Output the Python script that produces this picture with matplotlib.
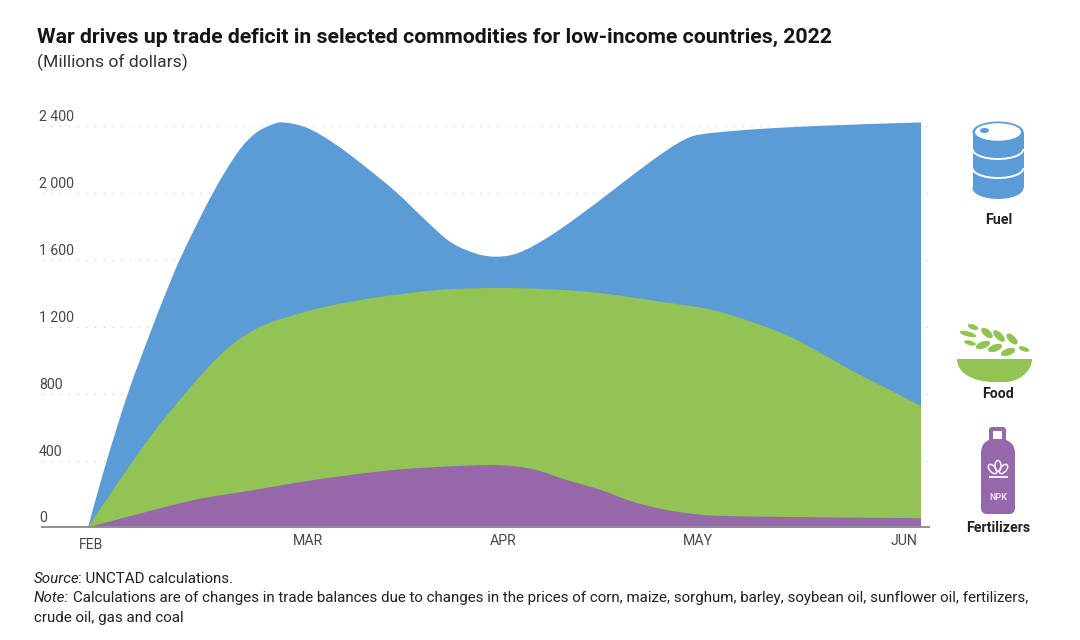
import matplotlib
matplotlib.use("Agg")
import matplotlib.pyplot as plt
from matplotlib.patches import Ellipse, Rectangle, Arc, PathPatch
from matplotlib.path import Path

plt.rcParams["font.family"] = ["Roboto", "DejaVu Sans"]

# month position (0 = Feb, 4 = Jun) and top of each stacked band
fuel_x = [0, .082, .192, .31, .36, .44, .60, .72, .80, .87, .93, 1.05, 1.18, 1.31, 1.48, 1.61, 1.74, 1.87, 1.97,
          2.07, 2.20, 2.35, 2.51, 2.64, 2.75, 2.83, 2.90, 2.99, 3.23, 3.55, 4.0]
fuel_top = [0, 365, 803, 1200, 1360, 1600, 2000, 2245, 2353, 2402, 2422, 2390, 2298, 2178, 2005, 1850, 1707, 1635, 1619,
            1643, 1728, 1856, 2006, 2130, 2230, 2296, 2338, 2358, 2383, 2403, 2422]
food_x = [0, .144, .31, .468, .626, .755, .865, .98, 1.09, 1.24, 1.40, 1.68, 1.96, 2.23, 2.47, 2.79, 3.0, 3.23, 3.39,
          3.55, 3.71, 3.87, 4.0]
food_top = [0, 268, 560, 803, 1021, 1150, 1220, 1266, 1305, 1345, 1378, 1420, 1432, 1423, 1400, 1342, 1300, 1210, 1130,
            1020, 910, 810, 725]
fert_x = [0, .144, .51, .79, 1.02, 1.26, 1.50, 1.74, 1.98, 2.14, 2.30, 2.46, 2.62, 2.78, 2.94, 3.07, 3.39, 4.0]
fert_top = [0, 48, 164, 222, 271, 314, 347, 365, 372, 347, 283, 225, 152, 104, 76, 68, 62, 55]

y_ticks = [0, 400, 800, 1200, 1600, 2000, 2400]
y_labels = ["0", "400", "800", "1 200", "1 600", "2 000", "2 400"]
months = ["FEB", "MAR", "APR", "MAY", "JUN"]

BLUE = "#5b9bd6"
GREEN = "#92c354"
PURPLE = "#9569a9"
TEXT = "#484848"
NOTE = "#222222"
ICON_LIGHT = "#f1e8f5"

W, H = 1080, 640


def band_path(xs, ys):
    # area under the readings, joined with bezier segments so the edge stays smooth
    slopes = []
    for i in range(len(xs)):
        a, b = max(i - 1, 0), min(i + 1, len(xs) - 1)
        slopes.append((ys[b] - ys[a]) / (xs[b] - xs[a]))
    verts = [(xs[0], 0), (xs[0], ys[0])]
    codes = [Path.MOVETO, Path.LINETO]
    for i in range(len(xs) - 1):
        dx = (xs[i + 1] - xs[i]) / 3
        verts += [(xs[i] + dx, ys[i] + slopes[i] * dx),
                  (xs[i + 1] - dx, ys[i + 1] - slopes[i + 1] * dx),
                  (xs[i + 1], ys[i + 1])]
        codes += [Path.CURVE4] * 3
    verts += [(xs[-1], 0), (xs[0], 0)]
    codes += [Path.LINETO, Path.CLOSEPOLY]
    return Path(verts, codes)


fig = plt.figure(figsize=(W / 100, H / 100), dpi=100, facecolor="white")

# chart axes, placed by pixel
left, right, bottom = 42, 929, 527.4
ymax = 2440
top = bottom - ymax / 5.98
ax = fig.add_axes([left / W, 1 - bottom / H, (right - left) / W, (bottom - top) / H])
ax.set_xlim((left - 88) / 208.25, (right - 88) / 208.25)
ax.set_ylim(0, ymax)
ax.add_patch(PathPatch(band_path(fuel_x, fuel_top), color=BLUE, lw=0, zorder=2))
ax.add_patch(PathPatch(band_path(food_x, food_top), color=GREEN, lw=0, zorder=3))
ax.add_patch(PathPatch(band_path(fert_x, fert_top), color=PURPLE, lw=0, zorder=4))

ax.set_xticks([])
ax.set_yticks(y_ticks)
ax.tick_params(length=0, labelleft=False)
ax.grid(axis="y", color="black", alpha=0.2, lw=0.9, linestyle=(0, (1, 6)), zorder=5)
for s in ["top", "left", "right"]:
    ax.spines[s].set_visible(False)
ax.spines["bottom"].set_color("#8f8f8f")
ax.spines["bottom"].set_linewidth(1.4)
ax.spines["bottom"].set_zorder(6)

for tick, lab in zip(y_ticks, y_labels):
    ax.annotate(lab, (0, tick), xycoords=("axes fraction", "data"), xytext=(-3, 2), textcoords="offset pixels",
                ha="left", va="bottom", fontsize=10.2, color=TEXT)

# month labels do not sit quite on their ticks in the original
label_x = [0.015, 1.055, 1.995, 2.93, 3.92]
label_y = [-17.5, -14, -14, -14, -14]
for x, dy, m in zip(label_x, label_y, months):
    ax.annotate(m, (x, 0), xytext=(0, dy), textcoords="offset pixels", ha="center", va="center",
                fontsize=10.2, color=TEXT, annotation_clip=False)

# overlay in pixel coordinates for text and icons
ov = fig.add_axes([0, 0, 1, 1], facecolor="none")
ov.set_xlim(0, W)
ov.set_ylim(H, 0)
ov.axis("off")

ov.text(37, 37, "War drives up trade deficit in selected commodities for low-income countries, 2022",
        fontsize=15.3, fontweight="bold", color="#151515", va="center")
ov.text(37, 62.5, "(Millions of dollars)", fontsize=12.6, color="#333333", va="center")

ov.text(34, 579, "Source", fontsize=10.9, style="italic", color=NOTE, va="center")
ov.text(78, 579, ": UNCTAD calculations.", fontsize=10.9, color=NOTE, va="center")
ov.text(34, 598, "Note:", fontsize=10.9, style="italic", color=NOTE, va="center")
ov.text(73, 598, "Calculations are of changes in trade balances due to changes in the prices of corn, maize, sorghum, "
        "barley, soybean oil, sunflower oil, fertilizers,", fontsize=10.9, color=NOTE, va="center")
ov.text(34, 618, "crude oil, gas and coal", fontsize=10.9, color=NOTE, va="center")

# barrel
ov.add_patch(Ellipse((998, 188), 51, 22, color=BLUE, lw=0))
ov.add_patch(Rectangle((972.5, 132), 51, 56, color=BLUE, lw=0))
ov.add_patch(Ellipse((998, 132), 51, 21, color=BLUE, lw=0))
ov.add_patch(Ellipse((998, 132), 46, 17.5, color="white", lw=0))
ov.add_patch(Ellipse((984.5, 130.5), 9, 5, color=BLUE, lw=0))
for yc in [149, 168]:
    ov.add_patch(Arc((998, yc), 51, 20, theta1=0, theta2=180, color="white", lw=1.4))
ov.text(999, 219.5, "Fuel", fontsize=10.2, fontweight="bold", color=NOTE, ha="center", va="center")

# food bowl with grain leaves
bowl = Path([(957, 359), (1032, 359), (1032, 372), (1018, 382), (1005, 382), (995, 382), (971, 382), (957, 372),
             (957, 359), (957, 359)],
            [Path.MOVETO, Path.LINETO, Path.CURVE4, Path.CURVE4, Path.CURVE4, Path.LINETO, Path.CURVE4, Path.CURVE4,
             Path.CURVE4, Path.CLOSEPOLY])
ov.add_patch(PathPatch(bowl, color=GREEN, lw=0))
leaves = [(973, 327, 11, 5, 20), (968, 334, 17, 5, 15), (987, 333, 14, 7, 40), (999, 336, 15, 7, 45),
          (1012, 339, 14, 7, 45), (970, 343, 12, 4.5, 15), (983, 345, 15, 7, -20), (995, 348, 15, 7, -20),
          (1008, 352, 15, 7, -20), (1024, 349, 11, 4.5, 20)]
for x, y, w, h, ang in leaves:
    ov.add_patch(Ellipse((x, y), w, h, angle=ang, color=GREEN, lw=0))
ov.text(998, 394.5, "Food", fontsize=10.2, fontweight="bold", color=NOTE, ha="center", va="center")

# fertilizer bottle
bottle = Path([(992, 427), (1003, 427), (1006, 427), (1006, 430), (1006, 440), (1015, 443), (1015, 453), (1015, 508),
               (1015, 514), (1009, 514), (987, 514), (981, 514), (981, 508), (981, 453), (981, 443), (989, 440),
               (989, 430), (989, 427), (992, 427), (992, 427)],
              [Path.MOVETO, Path.LINETO, Path.CURVE3, Path.CURVE3, Path.LINETO, Path.CURVE3, Path.CURVE3, Path.LINETO,
               Path.CURVE3, Path.CURVE3, Path.LINETO, Path.CURVE3, Path.CURVE3, Path.LINETO, Path.CURVE3, Path.CURVE3,
               Path.LINETO, Path.CURVE3, Path.CURVE3, Path.CLOSEPOLY])
ov.add_patch(PathPatch(bottle, color=PURPLE, lw=0))
ov.add_patch(Rectangle((993, 431), 9, 8, color="white", lw=0))
for x, y, ang in [(998, 466, 0), (992.5, 469, -40), (1003.5, 469, 40)]:
    ov.add_patch(Ellipse((x, y), 6, 11, angle=ang, fc="none", ec=ICON_LIGHT, lw=1.2))
ov.add_patch(Rectangle((988.5, 476), 19, 2, color=ICON_LIGHT, lw=0))
ov.text(998, 497, "NPK", fontsize=6.5, fontweight="bold", color="#e9dcf0", ha="center", va="center")
ov.text(998, 527.5, "Fertilizers", fontsize=10.2, fontweight="bold", color=NOTE, ha="center", va="center")

fig.savefig("out.png", dpi=100)
